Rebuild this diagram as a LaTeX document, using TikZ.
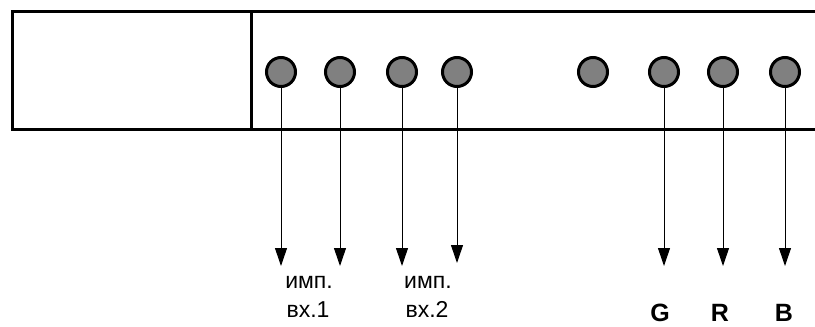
\documentclass[tikz,border=0pt]{standalone}
\usepackage{fontspec}
\setmainfont{Liberation Sans}
\usetikzlibrary{arrows.meta}
\definecolor{jackgray}{RGB}{128,128,128}
\begin{document}
\begin{tikzpicture}[x=1pt,y=-1pt,
  frame/.style={line width=3pt},
  jack/.style={circle,draw,line width=3pt,fill=jackgray,minimum size=29pt,inner sep=0pt},
  sig/.style={line width=1pt,-{Triangle[length=18pt,width=12pt]}},
  lbl/.style={font=\fontsize{23}{29}\selectfont,anchor=base,inner sep=0pt},
  rgb/.style={font=\fontsize{25}{25}\selectfont\bfseries,anchor=base,inner sep=0pt}]
\useasboundingbox (0,0) rectangle (815,327);
% frame
\draw[frame] (815,11) -- (12,11) -- (12,129) -- (815,129);
\draw[frame] (251,11) -- (251,129);
% jacks
\node[jack] (c1) at (281,72) {};
\node[jack] (c2) at (340,72) {};
\node[jack] (c3) at (402,72) {};
\node[jack] (c4) at (457,72) {};
\node[jack] (c5) at (593,72) {};
\node[jack] (c6) at (664,72) {};
\node[jack] (c7) at (723,72) {};
\node[jack] (c8) at (785,72) {};
% arrow ends
\coordinate (e1) at (281,266);
\coordinate (e2) at (340,266);
\coordinate (e3) at (402,266);
\coordinate (e4) at (457,263);
\coordinate (e6) at (664,266);
\coordinate (e7) at (723,266);
\coordinate (e8) at (785,266);
\foreach \i in {1,2,3,4,6,7,8} \draw[sig] (c\i.south) -- (e\i);
% labels
\node[lbl] (t1) at (309,288) {имп.};
\node[lbl] (t2) at (308,317) {вх.1};
\node[lbl] (t3) at (428,288) {имп.};
\node[lbl] (t4) at (427,317) {вх.2};
\node[rgb] (g) at (660,321) {G};
\node[rgb] (r) at (720,321) {R};
\node[rgb] (b) at (784,321) {B};
\end{tikzpicture}
\end{document}
